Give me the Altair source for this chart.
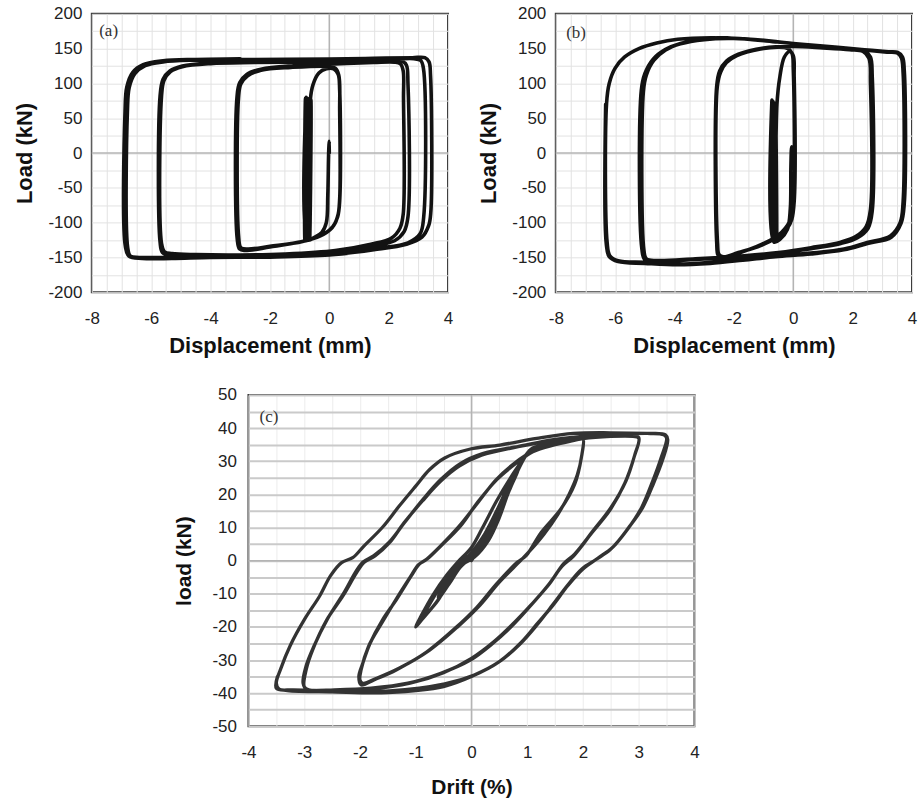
import altair as alt
import pandas as pd

# ---------------- Panel (a): Load (kN) vs Displacement (mm) ----------------
a_start = [(0.0, 0), (0.0, 17), (-0.02, 2), (-0.05, -60), (-0.1, -100), (-0.25, -114),
           (-0.5, -121), (-0.72, -125)]
a_spikes = [(-0.78, 80), (-0.74, -124), (-0.7, 78), (-0.66, -125), (-0.62, 77), (-0.82, -126),
            (-0.8, 79), (-0.68, -123), (-0.64, 76)]
a_loop1 = [(-0.55, 98), (-0.35, 115), (-0.1, 121), (0.15, 121), (0.3, 113), (0.35, 90),
           (0.36, -60), (0.3, -88), (0.15, -104), (-0.2, -117), (-0.9, -127), (-2.0, -134),
           (-2.75, -138), (-2.98, -136), (-3.05, -122), (-3.06, 78), (-2.98, 99), (-2.75, 111),
           (-2.3, 119), (-1.3, 123), (0.0, 124.5), (0.2, 122), (0.32, 112), (0.35, 60),
           (0.35, -66), (0.28, -92), (0.1, -107), (-0.3, -119), (-1.0, -128), (-2.0, -135),
           (-2.85, -140), (-3.02, -138), (-3.1, -124), (-3.11, 80), (-3.02, 101), (-2.78, 113),
           (-2.3, 120.5), (-1.2, 125.5)]
a_loop2 = [(0.2, 128), (1.5, 130), (2.2, 130.5), (2.4, 128), (2.49, 118), (2.5, 80),
           (2.49, -88), (2.38, -108), (2.1, -122), (1.4, -131), (0.2, -140), (-1.5, -145),
           (-3.0, -146.5), (-4.5, -146), (-5.3, -144.5), (-5.55, -142), (-5.65, -130),
           (-5.65, 82), (-5.57, 104), (-5.35, 117), (-4.95, 124), (-4.0, 128.5), (-2.5, 130),
           (-0.5, 131), (1.0, 132), (2.0, 132.5), (2.45, 132), (2.6, 126), (2.65, 100),
           (2.65, -92), (2.52, -113), (2.2, -126), (1.2, -135), (-0.3, -144), (-2.3, -148),
           (-4.3, -148.5), (-5.35, -147), (-5.62, -143), (-5.7, -128), (-5.7, 82), (-5.6, 106),
           (-5.37, 118), (-4.95, 125), (-4.0, 129.5), (-2.0, 131.5)]
a_loop3 = [(0.5, 133), (2.0, 134.5), (2.85, 135.5), (3.08, 133), (3.17, 122), (3.18, -92),
           (3.06, -116), (2.65, -129), (1.6, -137), (0.0, -145.5), (-2.0, -148.5), (-4.0, -149),
           (-5.5, -150), (-6.4, -150), (-6.7, -148), (-6.79, -136), (-6.8, 60), (-6.74, 94),
           (-6.55, 114), (-6.2, 125.5), (-5.6, 131), (-4.5, 133.5), (-2.5, 134.5), (0.0, 135),
           (1.5, 136), (2.8, 137), (3.22, 137), (3.36, 131), (3.41, 112), (3.42, -85),
           (3.35, -104), (3.12, -121), (2.6, -131), (1.5, -139), (0.0, -146.5), (-2.0, -149.5),
           (-4.0, -150), (-5.3, -151.5), (-6.3, -151.5), (-6.75, -148), (-6.87, -134),
           (-6.88, 60), (-6.82, 95), (-6.62, 116), (-6.27, 127), (-5.6, 132.5), (-4.5, 134.5),
           (-3.0, 135.5)]

# ---------------- Panel (b): Load (kN) vs Displacement (mm) ----------------
b_start = [(0.0, 0), (-0.05, 9), (-0.08, -20), (-0.1, -80), (-0.2, -110), (-0.45, -124),
           (-0.65, -128)]
b_spikes = [(-0.72, 76), (-0.66, -126), (-0.6, 72), (-0.56, -124), (-0.68, 74), (-0.62, -127),
            (-0.55, 70)]
b_loop1 = [(-0.45, 110), (-0.3, 138), (-0.12, 146), (0.0, 140), (0.03, 110), (0.03, -70),
           (-0.05, -95), (-0.2, -108), (-0.55, -121), (-1.1, -133), (-1.85, -143), (-2.35, -149),
           (-2.5, -146), (-2.55, -130), (-2.56, 95), (-2.45, 116), (-2.25, 130), (-1.9, 140),
           (-1.1, 149.5), (-0.5, 152), (-0.18, 150), (-0.04, 143), (0.0, 120), (0.0, -72),
           (-0.12, -98), (-0.5, -118), (-1.05, -131), (-1.85, -144), (-2.4, -150.5),
           (-2.53, -147), (-2.58, -128), (-2.58, 96), (-2.48, 118), (-2.25, 132), (-1.85, 142),
           (-1.0, 151)]
b_loop2 = [(0.0, 153), (1.0, 151), (1.9, 148.5), (2.35, 146), (2.55, 136), (2.6, 100),
           (2.6, -81), (2.45, -106), (2.1, -120), (1.6, -128), (0.6, -136), (-0.5, -143),
           (-1.65, -147.6), (-3.3, -152), (-4.6, -154.5), (-4.95, -152), (-5.03, -140),
           (-5.05, 88), (-4.95, 112), (-4.7, 133), (-4.3, 148), (-3.8, 157), (-3.0, 163),
           (-2.0, 164.5), (-0.8, 161), (0.0, 157.5), (1.1, 153), (2.0, 149.5), (2.4, 147),
           (2.6, 138), (2.66, 110), (2.66, -83), (2.52, -108), (2.15, -122), (1.6, -130),
           (0.6, -137.5), (-0.5, -144), (-1.8, -149), (-3.3, -153), (-4.6, -155.5), (-5.0, -153),
           (-5.1, -138), (-5.12, 90), (-5.0, 114), (-4.72, 135), (-4.3, 149), (-3.8, 157.5),
           (-3.0, 163.5), (-2.0, 165)]
b_loop3 = [(-0.53, 160), (0.03, 157), (1.15, 153), (2.27, 148.6), (3.16, 145), (3.5, 143.8),
           (3.64, 137), (3.7, 115), (3.7, -70), (3.6, -100), (3.27, -119), (2.49, -128.6),
           (1.71, -138), (0.59, -143.8), (-0.53, -147.6), (-1.65, -152.4), (-2.77, -157),
           (-3.89, -159.5), (-5.0, -157), (-5.9, -154.8), (-6.18, -147.6), (-6.27, -128.6),
           (-6.29, 71), (-6.2, 100), (-6.0, 122), (-5.68, 138), (-5.2, 150), (-4.6, 158),
           (-3.89, 163.5), (-2.77, 165.7), (-1.65, 164), (-0.53, 159.5), (0.5, 155.5),
           (1.5, 152), (2.4, 148.5), (3.2, 145.5), (3.52, 144.5), (3.68, 138), (3.74, 118),
           (3.74, -72), (3.63, -101), (3.3, -121), (2.5, -130), (1.7, -139), (0.6, -145),
           (-0.6, -149), (-1.7, -154), (-2.8, -158.5), (-3.9, -160.5), (-5.0, -158.5),
           (-5.9, -156), (-6.2, -149), (-6.3, -130), (-6.32, 70)]

# ---------------- Panel (c): load (kN) vs Drift (%) ----------------
c_small = [(0.0, 0), (0.3, 8), (0.55, 18), (0.75, 25), (0.6, 19), (0.35, 10), (0.1, 3),
           (-0.2, -1), (-0.45, -6), (-0.6, -11), (-0.45, -7), (-0.2, -1.5), (0.1, 2), (0.4, 11),
           (0.7, 22), (0.85, 28), (0.7, 24), (0.45, 15), (0.2, 7), (-0.05, 1.5), (-0.3, -2),
           (-0.6, -9), (-0.85, -16), (-1.0, -20), (-0.85, -17), (-0.6, -12), (-0.4, -6),
           (-0.2, -1.5), (0.05, 1), (0.3, 6), (0.5, 13), (0.65, 20), (0.8, 26), (0.95, 31),
           (1.05, 33.5), (0.9, 30), (0.7, 25), (0.45, 18), (0.2, 10), (0.0, 4), (-0.25, -0.5),
           (-0.45, -4.5), (-0.7, -10.6), (-0.9, -16.6), (-1.0, -20), (-0.9, -18), (-0.65, -13),
           (-0.4, -7), (-0.2, -2), (0.05, 2), (0.3, 8), (0.5, 15), (0.7, 23), (0.9, 30),
           (1.1, 34)]
c_two = [(1.5, 35.5), (1.9, 36.5), (2.0, 37), (1.98, 32), (1.9, 26), (1.75, 20), (1.55, 14),
         (1.3, 8), (1.05, 3), (0.88, 0), (0.5, -6.5), (0.15, -13.5), (-0.25, -20), (-0.75, -27),
         (-1.3, -32.5), (-1.7, -35.5), (-1.95, -37), (-2.0, -36), (-1.98, -33), (-1.85, -26),
         (-1.6, -18.6), (-1.35, -11.6), (-1.1, -5), (-0.95, -1.2), (-0.8, 0.4), (-0.55, 4.4),
         (-0.2, 10.4), (0.1, 17.4), (0.45, 24.4), (0.8, 29.4), (1.1, 32.9), (1.5, 35),
         (1.9, 36.5), (2.0, 37), (1.97, 31), (1.85, 23), (1.6, 15.5), (1.25, 8.5), (0.98, 1.5),
         (0.82, -0.5), (0.45, -7), (0.1, -14), (-0.3, -20.5), (-0.8, -27.5), (-1.35, -33),
         (-1.75, -36), (-1.98, -37.5), (-2.02, -35), (-1.95, -31), (-1.82, -25), (-1.6, -18),
         (-1.34, -11.6), (-1.08, -4.6), (-0.94, -1.1), (-0.8, 0.5), (-0.55, 4.5), (-0.22, 10.4),
         (0.11, 17.4), (0.44, 24.4), (0.77, 29.4), (1.1, 33), (1.5, 35)]
c_three = [(2.0, 36.8), (2.5, 37.5), (2.9, 37.5), (3.0, 37), (2.92, 31.4), (2.75, 23.4),
           (2.49, 15.4), (2.16, 8.4), (1.83, 1.4), (1.63, -1.6), (1.37, -7.5), (1.04, -14),
           (0.71, -20), (0.38, -25), (-0.02, -30), (-0.55, -34), (-1.14, -37), (-1.8, -38.5),
           (-2.46, -39), (-2.92, -39), (-3.0, -38), (-2.96, -32.6), (-2.85, -27), (-2.6, -18),
           (-2.3, -10.5), (-2.06, -3.6), (-1.93, -0.6), (-1.73, 1.4), (-1.47, 5.4),
           (-1.21, 11.4), (-0.88, 18), (-0.55, 24), (-0.22, 28.5), (0.18, 31.8), (0.84, 34.4),
           (1.5, 36.4), (2.2, 37.5), (2.8, 37.8), (3.0, 37.2), (2.93, 32), (2.77, 24), (2.5, 16),
           (2.18, 9), (1.85, 2), (1.65, -1), (1.4, -7), (1.06, -13.5), (0.72, -19.5), (0.4, -24.5),
           (0.0, -29.5), (-0.5, -33.8), (-1.1, -37), (-1.8, -38.8), (-2.5, -39.3), (-2.95, -39),
           (-3.02, -37), (-2.97, -32), (-2.83, -26), (-2.58, -17.5), (-2.28, -9.5),
           (-2.08, -3.5), (-1.95, -0.5), (-1.75, 1.5), (-1.48, 5.5), (-1.2, 11.5), (-0.88, 18.3),
           (-0.55, 24.5), (-0.2, 29.3), (0.2, 32.3), (0.85, 34.5), (1.5, 36.6), (2.2, 37.8)]
c_four = [(2.8, 38.3), (3.2, 38.4), (3.45, 38), (3.5, 37), (3.4, 31), (3.25, 24), (3.05, 16),
          (2.8, 9.5), (2.5, 3.5), (2.25, 0.5), (1.98, -2.5), (1.72, -7.5), (1.45, -13.5),
          (1.17, -19.5), (0.88, -25), (0.5, -30.5), (0.05, -34.5), (-0.48, -37.2),
          (-1.47, -39.3), (-2.46, -39.3), (-3.2, -39), (-3.45, -38.8), (-3.5, -37), (-3.42, -32.6),
          (-3.25, -25.6), (-2.99, -17.6), (-2.72, -10.6), (-2.53, -4.6), (-2.33, -0.6),
          (-2.13, 0.9), (-1.93, 4.4), (-1.6, 10), (-1.3, 16.4), (-1.0, 22.5), (-0.75, 27.5),
          (-0.48, 31), (-0.02, 33.7), (0.51, 34.9), (1.17, 36.9), (1.83, 38.4), (2.49, 38.6),
          (3.15, 38.4), (3.48, 38), (3.52, 36.5), (3.43, 30.5), (3.27, 23.5), (3.07, 16),
          (2.82, 10), (2.53, 4), (2.27, 0.8), (2.0, -2.5), (1.73, -7.5), (1.46, -13.5),
          (1.18, -19), (0.9, -24.5), (0.5, -30.5), (0.0, -35), (-0.5, -38), (-1.5, -39.8),
          (-2.5, -39.6), (-3.3, -39.2), (-3.5, -38.5), (-3.48, -35)]

# axis tick values and labels
disp_ticks = [-8, -7.5, -7, -6.5, -6, -5.5, -5, -4.5, -4, -3.5, -3, -2.5, -2, -1.5, -1, -0.5,
              0, 0.5, 1, 1.5, 2, 2.5, 3, 3.5, 4]
load_ticks_ab = [-200, -175, -150, -125, -100, -75, -50, -25, 0, 25, 50, 75, 100, 125, 150,
                 175, 200]
drift_ticks = [-4, -3.5, -3, -2.5, -2, -1.5, -1, -0.5, 0, 0.5, 1, 1.5, 2, 2.5, 3, 3.5, 4]
load_ticks_c = [-50, -45, -40, -35, -30, -25, -20, -15, -10, -5, 0, 5, 10, 15, 20, 25, 30,
                35, 40, 45, 50]

FONT = "Liberation Sans"


def frame(*segments):
    pts = [p for seg in segments for p in seg]
    return pd.DataFrame({"x": [p[0] for p in pts], "y": [p[1] for p in pts],
                         "i": list(range(len(pts)))})


def panel(df, xdom, ydom, xticks, yticks, xstep, ystep, xtitle, ytitle, tag, tagx, tagy,
          w, h, color, lw, xgrid, ygrid, fs_title, ytitle_pad, ylab_pad, xtitle_pad):
    xs = alt.Scale(domain=xdom, nice=False, zero=False)
    ys = alt.Scale(domain=ydom, nice=False, zero=False)
    xa = alt.Axis(values=xticks,
                  labelExpr=f"abs(datum.value % {xstep}) < 0.001 ? '' + datum.value : ''",
                  title=xtitle, grid=True, gridColor=xgrid[0], gridWidth=xgrid[1],
                  labelFontSize=17, titleFontSize=fs_title, titleFontWeight="bold",
                  labelPadding=18, titlePadding=xtitle_pad, tickSize=0)
    ya = alt.Axis(values=yticks,
                  labelExpr=f"abs(datum.value % {ystep}) < 0.001 ? '' + datum.value : ''",
                  title=ytitle, grid=True, gridColor=ygrid[0], gridWidth=ygrid[1],
                  labelFontSize=17, titleFontSize=fs_title, titleFontWeight="bold",
                  labelPadding=ylab_pad, titlePadding=ytitle_pad, tickSize=0)

    def X(f):
        return alt.X(f, type="quantitative", scale=xs, axis=xa)

    def Y(f):
        return alt.Y(f, type="quantitative", scale=ys, axis=ya)

    zero = pd.DataFrame({"z": [0]})
    vrule = alt.Chart(zero).mark_rule(color="#b4b4b4", strokeWidth=1.5).encode(x=X("z"))
    hrule = alt.Chart(zero).mark_rule(color="#b4b4b4", strokeWidth=1.5).encode(y=Y("z"))
    line = alt.Chart(df).mark_line(color=color, strokeWidth=lw, interpolate="catmull-rom",
                                   strokeJoin="round", strokeCap="round").encode(
        x=X("x"), y=Y("y"), order=alt.Order("i:Q"))
    lab = alt.Chart(pd.DataFrame({"tx": [tagx], "ty": [tagy], "t": [tag]})).mark_text(
        font="Liberation Serif", fontSize=17, color="#333", align="left", baseline="middle"
    ).encode(x=X("tx"), y=Y("ty"), text="t:N")
    return alt.layer(vrule, hrule, line, lab).properties(width=w, height=h)


pa = panel(frame(a_start, a_spikes, a_loop1, a_loop2, a_loop3), [-8, 4], [-200, 200],
           disp_ticks, load_ticks_ab, 2, 50, "Displacement (mm)", "Load (kN)", "(a)", -7.75, 176,
           357, 279, "#121212", 3.6, ("#e2e2e2", 1), ("#e2e2e2", 1), 22, 11, 10, 9.5)
pb = panel(frame(b_start, b_spikes, b_loop1, b_loop2, b_loop3), [-8, 4], [-200, 200],
           disp_ticks, load_ticks_ab, 2, 50, "Displacement (mm)", "Load (kN)", "(b)", -7.65, 172,
           357, 279, "#121212", 3.6, ("#e2e2e2", 1), ("#e2e2e2", 1), 22, 11, 10, 9.5)
pc = panel(frame(c_small, c_two, c_three, c_four), [-4, 4], [-50, 50],
           drift_ticks, load_ticks_c, 1, 10, "Drift (%)", "load (kN)", "(c)", -3.8, 43.5,
           447, 332, "#333333", 3.3, ("#ececec", 1), ("#cacaca", 2), 21, 18, 12, 16.5)

spacer = alt.Chart(pd.DataFrame({"s": [0]})).mark_point(opacity=0).encode(
    x=alt.X("s:Q", axis=None), y=alt.Y("s:Q", axis=None)
).properties(width=79, height=10, view=alt.ViewBackground(stroke="transparent"))

top = alt.concat(pa, pb, columns=2, spacing=22, align="none")
bottom = alt.concat(spacer, pc, columns=2, spacing=0, align="none")

chart = alt.concat(top, bottom, columns=1, spacing=27, align="none").properties(
    padding={"left": 12, "top": 3, "right": 0, "bottom": 0}
).configure_view(stroke="#3c3c3c", strokeWidth=2).configure_axis(
    domain=False, ticks=False, labelFont=FONT, titleFont=FONT, labelColor="#222222",
    titleColor="#111111", labelFlush=False, labelOverlap=False
)

chart.save("out.html", embed_options={"renderer": "svg", "actions": False})
